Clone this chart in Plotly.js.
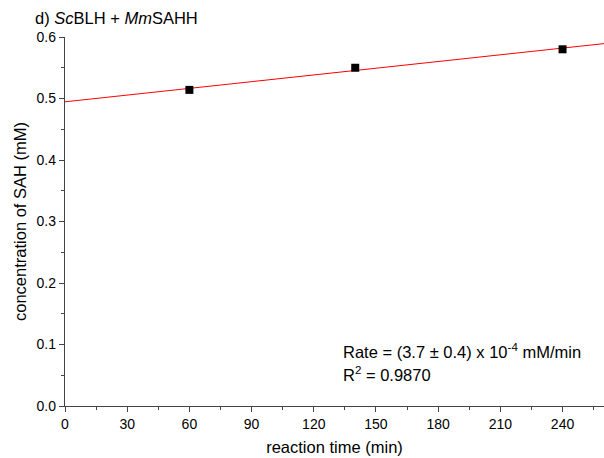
<!DOCTYPE html>
<html><head><meta charset="utf-8">
<script src="https://cdn.plot.ly/plotly-3.0.1.min.js"></script>
<style>html,body{margin:0;padding:0;background:#fff}#chart{width:604px;height:458px}</style>
</head><body><div id="chart"></div>
<script>
const timeMin = [60, 140, 240];
const sahConc = [0.514, 0.550, 0.580];
const xTicks = [0, 30, 60, 90, 120, 150, 180, 210, 240];
const yTicks = [0.0, 0.1, 0.2, 0.3, 0.4, 0.5, 0.6];
const fitRange = [0, 260];

// least-squares fit from the data
const n = timeMin.length;
const mx = timeMin.reduce((a,b)=>a+b,0)/n;
const my = sahConc.reduce((a,b)=>a+b,0)/n;
let sxy=0, sxx=0;
for (let i=0;i<n;i++){ sxy+=(timeMin[i]-mx)*(sahConc[i]-my); sxx+=(timeMin[i]-mx)**2; }
const slope = sxy/sxx, icpt = my - slope*mx;
const fitY = fitRange.map(x => icpt + slope*x);

const font = {family: 'Arial, "Liberation Sans", sans-serif', color: '#000'};
const data = [
  {x: fitRange, y: fitY, mode: 'lines', line: {color: '#ff0000', width: 1}, hoverinfo: 'skip'},
  {x: timeMin, y: sahConc, mode: 'markers', marker: {symbol: 'square', size: 8, color: '#000'}}
];
const axisCommon = {
  showgrid: false, zeroline: false, showline: true, linecolor: '#444', linewidth: 1.2,
  ticks: 'outside', ticklen: 5, tickcolor: '#444', tickwidth: 1,
  tickfont: Object.assign({size: 14}, font)
};
const layout = {
  width: 604, height: 458,
  margin: {l: 65, r: 0, t: 37, b: 52},
  showlegend: false,
  paper_bgcolor: '#fff', plot_bgcolor: '#fff',
  font: font,
  title: {text: 'd) <i>Sc</i>BLH + <i>Mm</i>SAHH', x: 35/604, xanchor: 'left', y: 1 - 18/458, yanchor: 'middle', font: Object.assign({size: 16.5}, font)},
  xaxis: Object.assign({}, axisCommon, {
    range: fitRange, tickvals: xTicks, ticktext: xTicks.map(String),
    minor: {dtick: 15, ticks: 'outside', ticklen: 3, tickcolor: '#444'},
    title: {text: 'reaction time (min)', standoff: 10, font: Object.assign({size: 16.5}, font)}
  }),
  yaxis: Object.assign({}, axisCommon, {
    range: [0, 0.6], tickvals: yTicks, ticktext: yTicks.map(v => v.toFixed(1)),
    minor: {dtick: 0.05, ticks: 'outside', ticklen: 3, tickcolor: '#444'},
    title: {text: 'concentration of SAH (mM)', standoff: 5, font: Object.assign({size: 16.5}, font)}
  }),
  annotations: [
    {xref: 'paper', yref: 'paper', x: (341-65)/539, y: (406-351)/369, xanchor: 'left', yanchor: 'middle', showarrow: false,
     text: 'Rate = (3.7 ± 0.4) x 10<sup>-4</sup> mM/min', font: Object.assign({size: 16.5}, font)},
    {xref: 'paper', yref: 'paper', x: (341-65)/539, y: (406-374)/369, xanchor: 'left', yanchor: 'middle', showarrow: false,
     text: 'R<sup>2</sup> = 0.9870', font: Object.assign({size: 16.5}, font)}
  ]
};
Plotly.newPlot('chart', data, layout, {displayModeBar: false, staticPlot: true});
</script></body></html>
